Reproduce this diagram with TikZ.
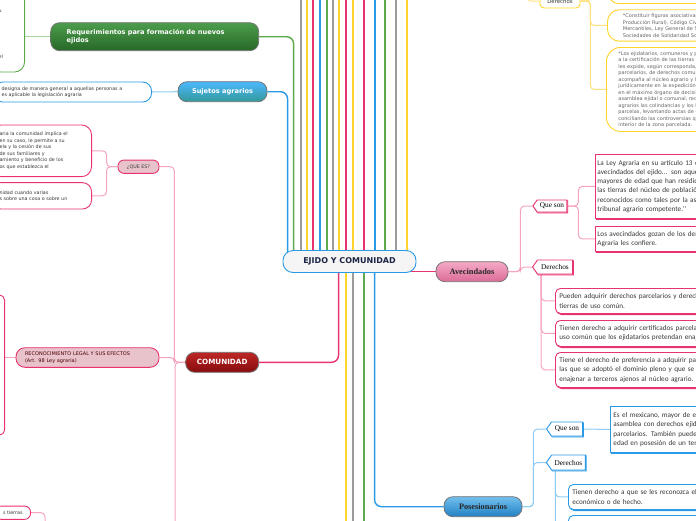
\documentclass[tikz,border=0pt]{standalone}
\usepackage{fontspec}
\setmainfont{DejaVu Sans}
\newfontfamily\tms{Liberation Serif}
\newfontfamily\carl{Carlito}
\usetikzlibrary{calc,backgrounds,shadows,shapes.symbols}
\definecolor{gline}{HTML}{5DAA4C}
\definecolor{bline}{HTML}{2B9AE6}
\definecolor{rline}{HTML}{E8336E}
\definecolor{yline}{HTML}{FFD42A}
\definecolor{kline}{HTML}{9B9B9B}
\definecolor{pinklt}{HTML}{F6A3C0}
\definecolor{bluelt}{HTML}{8FCBF2}
\definecolor{yellt}{HTML}{FFE07A}
\definecolor{greenlt}{HTML}{A8D39A}
\definecolor{navy}{HTML}{1B2445}
\definecolor{graytext}{HTML}{3A3A3A}
\definecolor{rose}{HTML}{E8C3CC}
\definecolor{avetop}{HTML}{F4A9C6}
\definecolor{avebot}{HTML}{DC6C98}
\definecolor{postop}{HTML}{72C0EE}
\definecolor{posbot}{HTML}{2280C4}
\tikzset{
  hub/.style={rounded corners=10pt,draw=bline,fill=black!4,line width=0.9pt,font=\bfseries\fontsize{8}{9}\selectfont,text=navy,minimum width=133pt,minimum height=22pt},
  topic/.style={rounded corners=9pt,draw=black!55,line width=0.8pt,font=\bfseries\fontsize{6.6}{8}\selectfont,text=white,minimum height=20pt,inner sep=2pt},
  subject/.style={rounded corners=9pt,draw=black!55,line width=0.8pt,font=\tms\bfseries\fontsize{8.3}{10}\selectfont,text=black!85,minimum height=20pt},
  leaf/.style={draw,fill=white,line width=0.9pt,font=\fontsize{4.8}{6.5}\selectfont,text=graytext,align=left,inner xsep=8pt},
  tag/.style={signal,signal to=west,signal pointer angle=110,draw,fill=white,line width=0.9pt,copy shadow={shadow xshift=0.8pt,shadow yshift=-0.8pt},font=\tms\fontsize{7.3}{8}\selectfont,text=black,inner sep=1pt},
  pbox/.style={draw=rline,fill=white,line width=0.9pt,copy shadow={shadow xshift=1.2pt,shadow yshift=-1.2pt},font=\carl\fontsize{7.2}{9.3}\selectfont,text=graytext,align=left,inner xsep=2pt,anchor=north west,text width=200pt},
  ybox/.style={draw=yline,fill=white,line width=0.9pt,font=\fontsize{5}{6.5}\selectfont,text=black!60,align=left,anchor=north west,text width=160pt},
  bundle/.style={line width=1.4pt},
  link/.style={line width=1.4pt,rounded corners=7pt},
  twig/.style={line width=1pt,rounded corners=4pt}
}
\begin{document}
\begin{tikzpicture}[x=1pt,y=-1pt]
\path[use as bounding box] (0,0) rectangle (696,520);
% nodo central
\node[hub] (cn) at (349.5,261.5) {EJIDO Y COMUNIDAD};
% lado izquierdo
\node[topic,top color=green!45!black!70,bottom color=green!30!black!85,minimum width=208pt,minimum height=28pt,text width=176pt,align=left] (req) at (154.7,36.7) {Requerimientos para formación de nuevos\\ejidos};
\node[leaf,draw=gline,rounded corners=10pt,minimum height=82pt,text width=18pt,anchor=east] (grn) at (25,31) {\mbox{}\\[3pt]u\\[39pt]el};
\node[topic,top color=cyan!60!blue!70,bottom color=cyan!50!black!80,minimum width=89pt] (suj) at (222.5,91.7) {Sujetos agrarios};
\node[leaf,draw=bline,rounded corners=9pt,minimum height=20pt,text width=142pt,anchor=east,font=\fontsize{4.8}{6}\selectfont] (sujd) at (152,92) {designa de manera general a aquellas personas a\\es aplicable la legislación agraria};
\node[topic,top color=red!70!black!85,bottom color=red!50!black!95,minimum width=73pt,font=\bfseries\fontsize{7.2}{8}\selectfont] (com) at (222.2,362.3) {COMUNIDAD};
\node[leaf,draw=rline,fill=rose,rounded corners=6pt,minimum width=41pt,minimum height=13.3pt,inner xsep=2pt] (qes) at (138.5,166.7) {¿QUE ES?};
\node[leaf,draw=rline,rounded corners=10pt,minimum height=51.7pt,text width=84pt,anchor=east] (q1) at (92,150.8) {aria la comunidad implica el\\ en su caso, le permite a su\\ ela y la cesión de sus\\ de sus familiares y\\amiento y beneficio de los\\ os que establezca el};
\node[leaf,draw=rline,rounded corners=9pt,minimum height=26.3pt,text width=84pt,anchor=east] (q2) at (92,195.8) {nidad cuando varias\\s sobre una cosa o sobre un};
\node[leaf,draw=rline,fill=rose,rounded corners=9pt,minimum width=143pt,minimum height=19.6pt,text width=125pt,inner xsep=9pt,text=red!30!black,font=\fontsize{5}{6.7}\selectfont] (rec) at (87.5,357.5) {RECONOCIMIENTO LEGAL Y SUS EFECTOS\\(Art. 98 Ley agraria)};
\node[leaf,draw=rline,rounded corners=5pt,minimum width=20pt,minimum height=140pt,anchor=east] (rb) at (5,365) {};
\node[leaf,draw=rline,rounded corners=6pt,minimum height=13.3pt,anchor=east] (ti) at (31,512.7) {s tierras};
% lado derecho: ejidatarios (derechos)
\node[leaf,draw=yline,rounded corners=4pt,minimum width=40pt,minimum height=14pt,font=\fontsize{5.4}{6}\selectfont,inner xsep=2pt] (dy) at (560,1) {Derechos};
\node[ybox,rounded corners=10pt,minimum height=43pt] (y1) at (608,-40) {};
\node[ybox,rounded corners=12pt,minimum height=31.4pt,inner xsep=15.5pt] (y2) at (607,9.3) {*Constituir figuras asociativas (Sociedades de\\Producción Rural), Código Civil, Código de\\Mercantiles, Ley General de Sociedades\\Sociedades de Solidaridad Social.};
\node[ybox,rounded corners=14pt,minimum height=84pt,inner xsep=12pt] (y3) at (606,47) {*Los ejidatarios, comuneros y posesionarios\\a la certificación de las tierras que el RAN\\les expide, según corresponda, certificados\\parcelarios, de derechos comunes, la Procuraduría\\acompaña al núcleo agrario y lo asesora\\jurídicamente en la expedición de los acuerdos\\en el máximo órgano de decisión, que es la\\asamblea ejidal o comunal, reconociendo los\\agrarios las colindancias y los límites de sus\\parcelas, levantando actas de conformidad y\\conciliando las controversias que surjan al\\interior de la zona parcelada.};
% avecindados
\node[subject,top color=avetop,bottom color=avebot,minimum width=72pt] (ave) at (472,271.7) {Avecindados};
\node[tag,draw=rline,minimum width=34pt,minimum height=12pt] (qs1) at (552,206) {Que son};
\node[tag,draw=rline,minimum width=40pt,minimum height=14pt] (dr1) at (555,267) {Derechos};
\node[pbox,minimum height=64pt] (ba) at (595,154) {La Ley Agraria en su artículo 13 establece que ``Los\\avecindados del ejido... son aquellos mexicanos\\mayores de edad que han residido por un año o más en\\las tierras del núcleo de población ejidal y que han sido\\reconocidos como tales por la asamblea ejidal o el\\tribunal agrario competente.''};
\node[pbox,minimum height=25pt] (bb) at (595,226) {Los avecindados gozan de los derechos que la Ley\\Agraria les confiere.};
\node[pbox,rounded corners=5pt,minimum height=25pt,inner xsep=4pt] (bc) at (555,288) {Pueden adquirir derechos parcelarios y derechos sobre\\tierras de uso común.};
\node[pbox,rounded corners=5pt,minimum height=26pt,inner xsep=4pt] (bd) at (555,320) {Tienen derecho a adquirir certificados parcelarios o de\\uso común que los ejidatarios pretendan enajenar.};
\node[pbox,rounded corners=5pt,minimum height=35pt,inner xsep=4pt] (be) at (555,352) {Tiene el derecho de preferencia a adquirir parcelas de\\las que se adoptó el dominio pleno y que se pretendan\\enajenar a terceros ajenos al núcleo agrario.};
% posesionarios
\node[subject,top color=postop,bottom color=posbot,minimum width=78pt] (pos) at (483,506.7) {Posesionarios};
\node[tag,draw=bline,minimum width=36pt,minimum height=14pt] (qs2) at (567,429) {Que son};
\node[tag,draw=bline,minimum width=39pt,minimum height=15pt] (dr2) at (568.5,462.5) {Derechos};
\node[pbox,draw=bline,minimum height=46pt,inner xsep=3pt] (bf) at (610,406) {Es el mexicano, mayor de edad, reconocido por la\\asamblea con derechos ejidales sobre terrenos\\parcelarios. También puede serlo el menor de\\edad en posesión de un terreno.};
\node[pbox,draw=bline,rounded corners=5pt,minimum height=25pt,inner xsep=4pt] (bg) at (568,484) {Tienen derecho a que se les reconozca el usufructo\\económico o de hecho.};
\node[pbox,draw=bline,rounded corners=5pt,minimum height=25pt] (bh) at (568,515) {};
% conectores
\begin{scope}[on background layer]
\foreach \x/\c [count=\i] in {301/kline,307/yline,313/rline,320/bline,327/gline,333/kline,339/yline,346/rline,353/yline,364/rline,375/bline,385/gline,396/kline,407/yline}{
  \coordinate (up\i) at (\x,-8);
  \draw[bundle,\c] (up\i) -- (up\i |- cn.center);
}
\foreach \x/\c [count=\i] in {346/yline,353/kline,364/gline}{
  \coordinate (dn\i) at (\x,528);
  \draw[bundle,\c] (dn\i) -- (dn\i |- cn.center);
}
\draw[link,gline] (req.east) -| ($(cn.west)+(11,0)$);
\draw[link,bline] (suj.east) -| ($(cn.west)+(5,0)$);
\draw[link,rline] (com.east) -| ($(cn.west)+(56,0)$);
\draw[link,bline] (pos.west) -| ($(cn.west)+(92,0)$);
\draw[link,rline] (ave.west) -- (ave.west -| cn.center);
\draw[twig,greenlt] (grn.east |- req.west) -- (req.west);
\draw[twig,bluelt] (sujd.east) -- (suj.west);
\coordinate (cbot) at (175,528); \coordinate (tbot) at (45,528); \coordinate (ytop) at (527,-10);
\draw[twig,pinklt] (com.west) -- ++(-11,0) |- (qes.east); \draw[twig,pinklt] (com.west) -- ++(-11,0) |- (rec.east); \draw[twig,pinklt] (com.west) -| (cbot);
\draw[twig,pinklt] (qes.west) -- ++(-11,0) |- (q1.east); \draw[twig,pinklt] (qes.west) -- ++(-11,0) |- (q2.east);
\draw[twig,pinklt] (rec.west) -- (rec.west -| rb.east);
\draw[twig,pinklt] (ti.east) -| (tbot);
\draw[twig,yellt] (dy.west) -| (ytop);
\draw[twig,yellt] (dy.east) -- ++(10,0) |- (y1.west); \draw[twig,yellt] (dy.east) -- ++(10,0) |- (y2.west); \draw[twig,yellt] (dy.east) -- ++(10,0) |- (y3.west);
\draw[twig,pinklt] (ave.east) -- ++(12,0) |- (qs1.west); \draw[twig,pinklt] (ave.east) -- ++(12,0) |- (dr1.west);
\draw[twig,pinklt] (qs1.east) -- ++(11,0) |- (ba.west); \draw[twig,pinklt] (qs1.east) -- ++(11,0) |- (bb.west);
\draw[twig,pinklt] ($(dr1.south west)+(4,0)$) |- (bc.west); \draw[twig,pinklt] ($(dr1.south west)+(4,0)$) |- (bd.west); \draw[twig,pinklt] ($(dr1.south west)+(4,0)$) |- (be.west);
\draw[twig,bluelt] (pos.east) -- ++(11,0) |- (qs2.west); \draw[twig,bluelt] (pos.east) -- ++(11,0) |- (dr2.west);
\draw[twig,bluelt] (qs2.east) -- (bf.west);
\draw[twig,bluelt] ($(dr2.south west)+(4,0)$) |- (bg.west); \draw[twig,bluelt] ($(dr2.south west)+(4,0)$) |- (bh.west);
\end{scope}
\end{tikzpicture}
\end{document}
